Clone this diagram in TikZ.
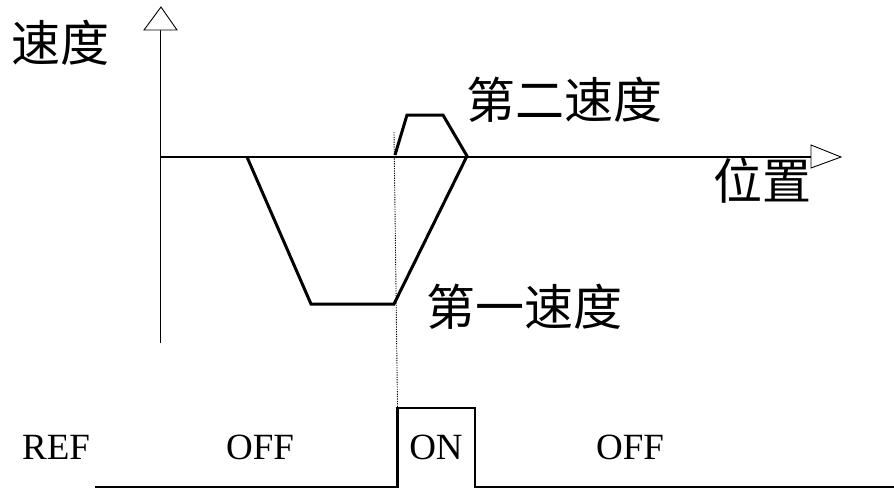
\documentclass[tikz,border=0pt]{standalone}
\usepackage{fontspec}
\setmainfont{Liberation Serif}
\newfontfamily\cjk{Noto Sans CJK SC}
\begin{document}
\begin{tikzpicture}[x=1pt,y=-1pt,
  axisline/.style={line width=1.4pt},
  headtri/.style={line width=0.9pt, fill=white},
  curveline/.style={line width=3pt, line join=miter},
  pulseline/.style={line width=2.8pt, line join=miter},
  guide/.style={line width=0.9pt, dash pattern=on 1.2pt off 1.2pt},
  cjklabel/.style={font=\cjk\fontsize{49}{52}\selectfont, inner sep=0pt, anchor=center},
  reflabel/.style={font=\fontsize{37}{40}\selectfont, inner sep=0pt, anchor=center}]
\useasboundingbox (0,0) rectangle (894,488);
% axes
\coordinate (o) at (160.5,157);
\coordinate (ytop) at (160.5,30);
\coordinate (ybot) at (160.5,343);
\coordinate (xend) at (811,157);
\draw[axisline] (ybot) -- (ytop);
\draw[axisline] (o) -- (xend);
\draw[headtri] (144,30) -- (161,7) -- (177,30) -- cycle;
\draw[headtri] (811,145) -- (841,157) -- (811,168) -- cycle;
% speed profile
\coordinate (c0) at (247,157);
\coordinate (c1) at (311,304);
\coordinate (c2) at (394,304);
\coordinate (c3) at (467,156);
\coordinate (c4) at (443,115);
\coordinate (c5) at (407,115);
\coordinate (c6) at (395,155);
\draw[curveline] (c0) -- (c1) -- (c2) -- (c3) -- (c4) -- (c5) -- (c6);
% guide
\coordinate (g0) at (394,132);
\coordinate (g1) at (397.5,407);
\draw[guide] (g0) -- (g1);
% pulse
\coordinate (p0) at (95,487);
\coordinate (p1) at (397.5,487);
\coordinate (p2) at (397.5,408);
\coordinate (p3) at (475,408);
\coordinate (p4) at (475,487);
\coordinate (p5) at (894,487);
\draw[pulseline] (p0) -- (p1) -- (p2) -- (p3) -- (p4) -- (p5);
% labels
\node[cjklabel] (lspeed) at (60,43) {速度};
\node[cjklabel] (lsecond) at (564,100) {第二速度};
\node[cjklabel] (lpos) at (762,181) {位置};
\node[cjklabel] (lfirst) at (524,307) {第一速度};
\node[reflabel] (lref) at (56,447) {REF};
\node[reflabel] (loff1) at (260,447) {OFF};
\node[reflabel] (lon) at (436,447) {ON};
\node[reflabel] (loff2) at (630,447) {OFF};
\end{tikzpicture}
\end{document}
